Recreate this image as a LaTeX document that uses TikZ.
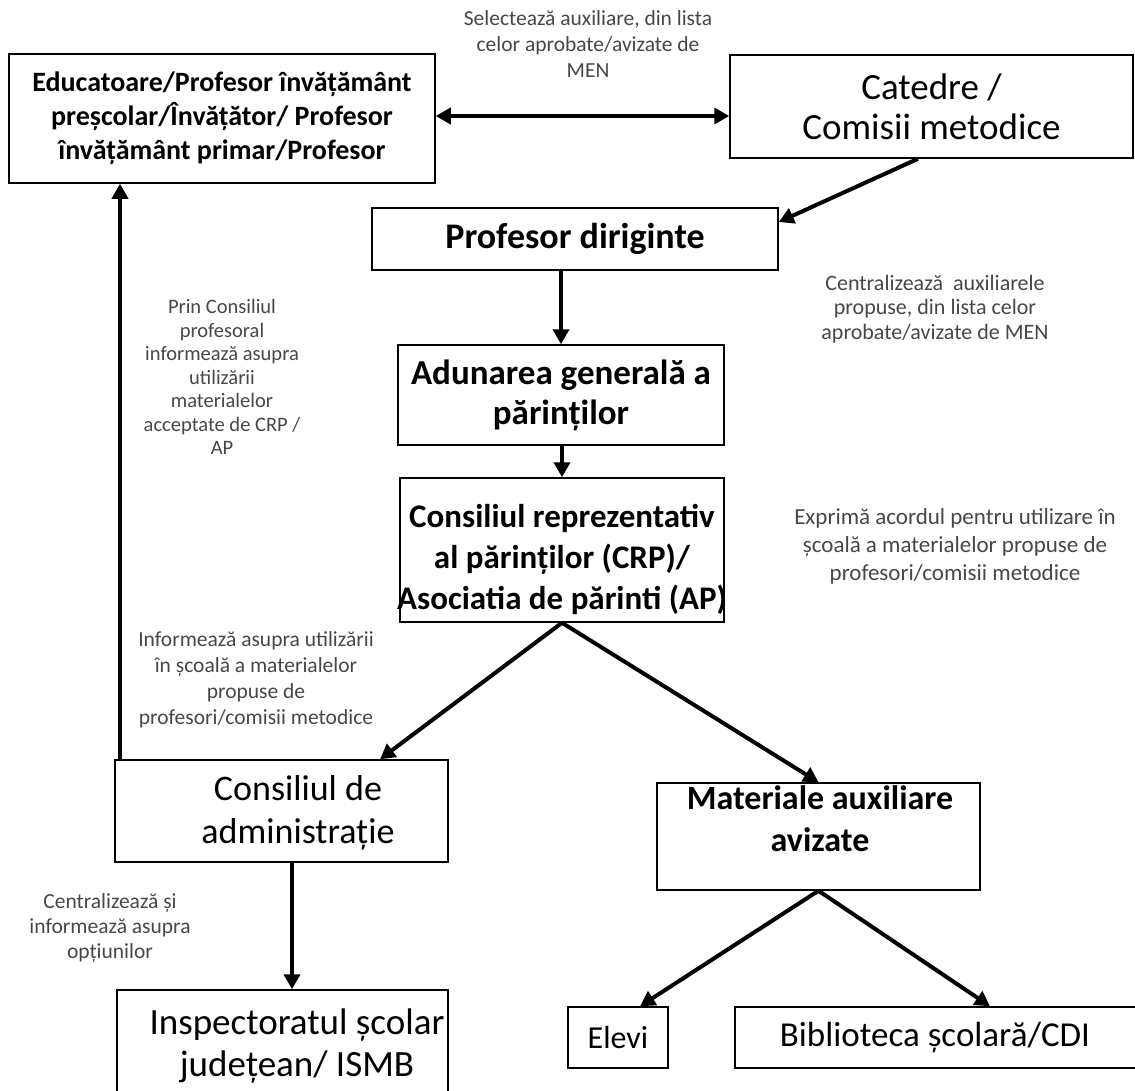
\documentclass[tikz,border=0pt]{standalone}
\usepackage{fontspec}
\setmainfont{Carlito}
\usetikzlibrary{arrows.meta}
\begin{document}
\begin{tikzpicture}[x=1pt,y=-1pt,
  box/.style={draw, line width=1.5pt, inner sep=0pt, align=center},
  boxtext/.style={align=center, inner sep=0pt},
  lbl/.style={align=center, text=black!72, inner sep=0pt, font=\fontsize{21.5}{26}\selectfont},
  arr/.style={line width=4pt, -{Triangle[length=15pt,width=16pt]}},
  darr/.style={line width=4pt, {Triangle[length=15pt,width=16pt]}-{Triangle[length=15pt,width=16pt]}},
]
\useasboundingbox (0,0) rectangle (1135,1090);

% boxes
\node[box, minimum width=426pt, minimum height=129pt, font=\bfseries\fontsize{28}{34}\selectfont] (edu) at (222,118.5)
  {Educatoare/Profesor învățământ\\preșcolar/Învățător/ Profesor\\învățământ primar/Profesor};
\node[box, minimum width=403pt, minimum height=103pt, font=\fontsize{37}{40}\selectfont] (cat) at (931.5,106.5)
  {Catedre /\\Comisii metodice};
\node[box, minimum width=406pt, minimum height=62pt, font=\bfseries\fontsize{36}{36}\selectfont] (dir) at (575,239)
  {Profesor diriginte};
\node[box, minimum width=326pt, minimum height=100pt, font=\bfseries\fontsize{35}{40}\selectfont] (adu) at (561,395)
  {Adunarea generală a\\părinților};
\node[boxtext, font=\bfseries\fontsize{33}{41}\selectfont] (crpt) at (562,559)
  {Consiliul reprezentativ\\al părinților (CRP)/\\Asociatia de părinti (AP)};
\node[box, minimum width=324pt, minimum height=144pt] (crp) at (562,550) {};
\node[boxtext, font=\fontsize{36}{43}\selectfont] (admt) at (298,813)
  {Consiliul de\\administrație};
\node[box, minimum width=333pt, minimum height=102pt] (adm) at (281.5,811) {};
\node[boxtext, font=\bfseries\fontsize{34}{42}\selectfont] (matt) at (820,819)
  {Materiale auxiliare\\avizate};
\node[box, minimum width=323pt, minimum height=107pt] (mat) at (818.5,836.5) {};
\node[boxtext, font=\fontsize{37}{42}\selectfont] (inspt) at (297,1046)
  {Inspectoratul școlar\\județean/ ISMB};
\node[box, minimum width=331pt, minimum height=110pt] (insp) at (282.5,1045) {};
\node[box, minimum width=100pt, minimum height=61pt, font=\fontsize{32}{32}\selectfont] (elevi) at (618,1037.5)
  {Elevi};
\node[box, minimum width=410pt, minimum height=61pt, font=\fontsize{35}{36}\selectfont] (bib) at (940,1037.5)
  {\hspace*{-10pt}Biblioteca școlară/CDI};

% labels
\node[lbl] (lsel) at (588,44) {Selectează auxiliare, din lista\\celor aprobate/avizate de\\MEN};
\node[lbl, font=\fontsize{22}{24.5}\selectfont] (lcen) at (935,309) {Centralizează~ auxiliarele\\propuse, din lista celor\\aprobate/avizate de MEN};
\node[lbl, font=\fontsize{20.5}{23.5}\selectfont] (lprin) at (222,377) {Prin Consiliul\\profesoral\\informează asupra\\utilizării\\materialelor\\acceptate de CRP /\\AP};
\node[lbl, font=\fontsize{23}{28}\selectfont] (lexp) at (955,546.5) {Exprimă acordul pentru utilizare în\\școală a materialelor propuse de\\profesori/comisii metodice};
\node[lbl] (linf) at (256,680) {Informează asupra utilizării\\în școală a materialelor\\propuse de\\profesori/comisii metodice};
\node[lbl, font=\fontsize{21.5}{25}\selectfont] (lcen2) at (110,928) {Centralizează și\\informează asupra\\opțiunilor};

% connectors
\coordinate (h) at (0,116);
\draw[darr] (edu.east |- h) -- (cat.west |- h);
\coordinate (c1) at (918,0);
\coordinate (c2) at (0,222);
\draw[arr] (cat.south -| c1) -- (dir.east |- c2);
\coordinate (v) at (120,0);
\draw[arr] (adm.north -| v) -- (edu.south -| v);
\draw[arr] (dir.south -| adu.north) -- (adu.north);
\draw[arr] (adu.south -| crp.north) -- (crp.north);
\coordinate (a1) at (380,0);
\draw[arr] (crp.south) -- (adm.north -| a1);
\draw[arr] (crp.south) -- (mat.north);
\coordinate (a2) at (292,0);
\draw[arr] (adm.south -| a2) -- (insp.north -| a2);
\coordinate (a3) at (640,0);
\coordinate (a4) at (990,0);
\draw[arr] (mat.south) -- (elevi.north -| a3);
\draw[arr] (mat.south) -- (bib.north -| a4);
\end{tikzpicture}
\end{document}
